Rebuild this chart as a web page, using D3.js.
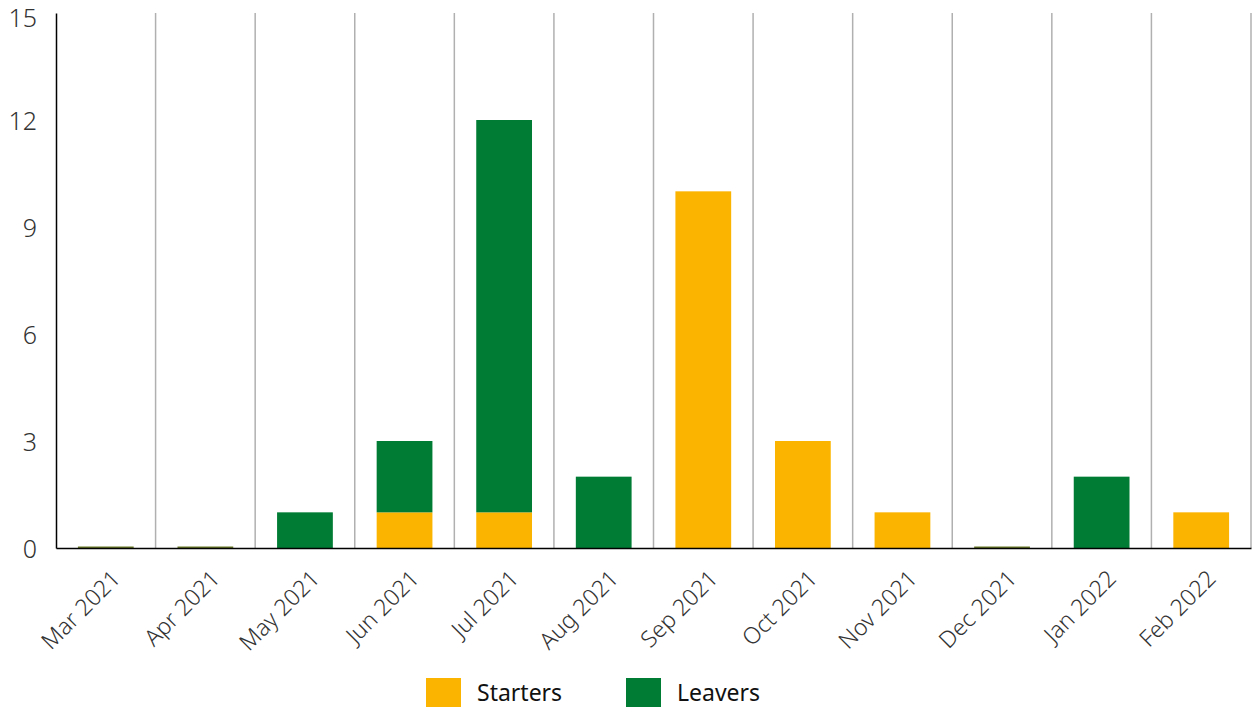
<!DOCTYPE html>
<html lang="en">
<head>
  <meta charset="UTF-8">
  <title>Starters and Leavers</title>
  <script src="https://d3js.org/d3.v7.min.js"></script>
  <style>
    body { margin: 0; background: #fff; }
    text { font-family: "Noto Sans", "Open Sans", sans-serif; fill: #333; }
  </style>
</head>
<body>
  <div id="chart"></div>
  <script>
    // Data
    var months = ["Mar 2021", "Apr 2021", "May 2021", "Jun 2021", "Jul 2021", "Aug 2021",
                  "Sep 2021", "Oct 2021", "Nov 2021", "Dec 2021", "Jan 2022", "Feb 2022"];
    var starters = [0, 0, 0, 1, 1, 0, 10, 3, 1, 0, 0, 1];
    var leavers  = [0, 0, 1, 2, 11, 2, 0, 0, 0, 0, 2, 0];
    var yTicks = [0, 3, 6, 9, 12, 15];

    var colors = { Starters: "#fbb400", Leavers: "#007c34" };

    var margin = {top: 13, right: 1, bottom: 160, left: 56},
        width = 1252 - margin.left - margin.right,
        height = 708 - margin.top - margin.bottom;

    var svg = d3.select("#chart")
      .append("svg")
        .attr("width", 1252)
        .attr("height", 708)
      .append("g")
        .attr("transform", "translate(" + margin.left + "," + margin.top + ")");

    var x = d3.scaleBand()
        .domain(months)
        .range([0, width])
        .paddingInner(0.44)
        .paddingOuter(0.22);

    var y = d3.scaleLinear()
        .domain([0, 15])
        .range([height, 0]);

    // vertical separators between months
    svg.selectAll("line.sep")
      .data(d3.range(1, months.length + 1))
      .enter().append("line")
        .attr("class", "sep")
        .attr("x1", function(i) { return i * width / months.length; })
        .attr("x2", function(i) { return i * width / months.length; })
        .attr("y1", 0)
        .attr("y2", height)
        .attr("stroke", "#b0b0b0")
        .attr("stroke-width", 1.5);

    // stacked data
    var rows = months.map(function(m, i) {
      return {month: m, Starters: starters[i], Leavers: leavers[i]};
    });
    var stack = d3.stack().keys(["Starters", "Leavers"])(rows);

    svg.append("g").selectAll("g")
      .data(stack)
      .enter().append("g")
        .attr("fill", function(d) { return colors[d.key]; })
      .selectAll("rect")
      .data(function(d) { return d; })
      .enter().append("rect")
        .attr("x", function(d) { return x(d.data.month); })
        .attr("width", x.bandwidth())
        .attr("y", function(d) { return y(d[1]); })
        .attr("height", function(d) { return y(d[0]) - y(d[1]); });

    // zero markers along baseline
    svg.append("g").selectAll("rect")
      .data(rows.filter(function(d) { return d.Starters + d.Leavers === 0; }))
      .enter().append("rect")
        .attr("x", function(d) { return x(d.month); })
        .attr("width", x.bandwidth())
        .attr("y", height - 1.5)
        .attr("height", 1.5)
        .attr("fill", "#6b7a2a");

    // Y axis
    var yAxis = svg.append("g")
        .call(d3.axisLeft(y).tickValues(yTicks).tickSize(0).tickPadding(19));
    yAxis.select(".domain").attr("stroke", "#000").attr("stroke-width", 1.5);
    yAxis.selectAll("text")
        .style("font-size", "25px")
        .style("font-weight", "300")
        .attr("dy", "0.36em");
    yAxis.selectAll(".tick").filter(function(d) { return d === 15; })
        .select("text").attr("y", 4);

    // X axis
    var xAxis = svg.append("g")
        .attr("transform", "translate(0," + height + ")")
        .call(d3.axisBottom(x).tickSize(0));
    xAxis.select(".domain").attr("stroke", "#000").attr("stroke-width", 1.5);
    xAxis.selectAll("text")
        .style("font-size", "23px")
        .style("font-weight", "300")
        .attr("text-anchor", "end")
        .attr("x", 0)
        .attr("y", 0)
        .attr("dy", 0)
        .attr("transform", "translate(16,32) rotate(-45)");

    // Legend
    var legend = svg.append("g")
        .attr("transform", "translate(" + (426 - margin.left) + "," + (678 - margin.top) + ")");
    ["Starters", "Leavers"].forEach(function(k, i) {
      var g = legend.append("g").attr("transform", "translate(" + (i * 200) + ",0)");
      g.append("rect")
        .attr("width", 35).attr("height", 29)
        .attr("fill", colors[k]);
      g.append("text")
        .attr("x", 51).attr("y", 23)
        .style("font-size", "23px")
        .style("fill", "#111")
        .text(k);
    });
  </script>
</body>
</html>
